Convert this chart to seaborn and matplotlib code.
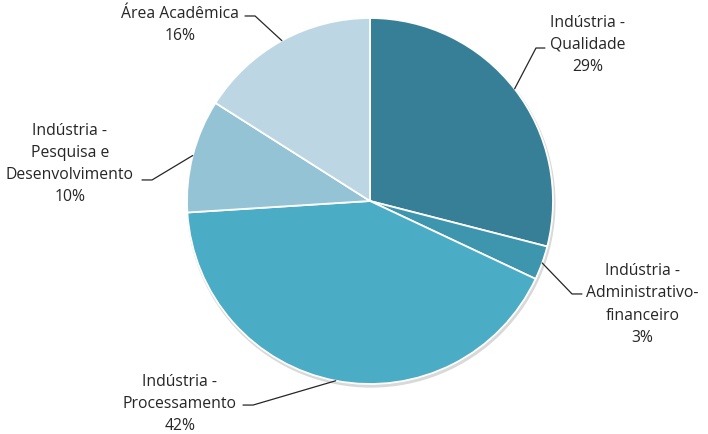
import numpy as np
import matplotlib
matplotlib.use("Agg")
import matplotlib.pyplot as plt
import seaborn as sns

sns.set_theme(style="white")
plt.rcParams["font.family"] = ["Open Sans", "DejaVu Sans"]

# ---- data ----
labels = ["Indústria -\nQualidade", "Indústria -\nAdministrativo-\nfinanceiro",
          "Indústria -\nProcessamento", "Indústria -\nPesquisa e\nDesenvolvimento",
          "Área Acadêmica"]
shares = [29, 3, 42, 10, 16]
colors = ["#377F96", "#3E95AE", "#4BACC6", "#93C3D4", "#BCD7E3"]

# label layout (data units, pie radius = 1): text centre, elbow point, end of short horizontal
text_pos = [(1.19, 0.858), (1.49, -0.56), (-1.04, -1.104), (-1.64, 0.208), (-1.04, 0.967)]
elbows = [(0.907, 0.836, 0.956), (1.104, -0.508, 1.158), (-0.639, -1.115, -0.694),
          (-1.191, 0.115, -1.246), (-0.628, 1.011, -0.683)]

W, H = 708, 435
CX, CY, R = 370, 202, 183
fig = plt.figure(figsize=(W / 100, H / 100), dpi=100)
ax = fig.add_axes([0, 0, 1, 1])
ax.set_axis_off()

# faint shadow under the pie
ax.add_patch(plt.Circle((0.006, -0.012), 1.004, color="#d9d9d9", zorder=0))

wedges, _ = ax.pie(shares, colors=colors, startangle=90, counterclock=False, radius=1,
                   wedgeprops=dict(edgecolor="white", linewidth=1.3), frame=False)
ax.set_aspect("auto")
ax.set_xlim((0 - CX) / R, (W - CX) / R)
ax.set_ylim((CY - H) / R, (CY - 0) / R)

for w, lab, val, tp, el in zip(wedges, labels, shares, text_pos, elbows):
    mid = np.deg2rad((w.theta1 + w.theta2) / 2)
    ax0, ay0 = np.cos(mid), np.sin(mid)
    ax.plot([ax0, el[0], el[2]], [ay0, el[1], el[1]], color="#262626", lw=0.9, zorder=3)
    ax.text(tp[0], tp[1], f"{lab}\n{val}%", ha="center", va="center",
            fontsize=11.3, color="#262626", linespacing=1.52)

fig.savefig("out.png", dpi=100)
